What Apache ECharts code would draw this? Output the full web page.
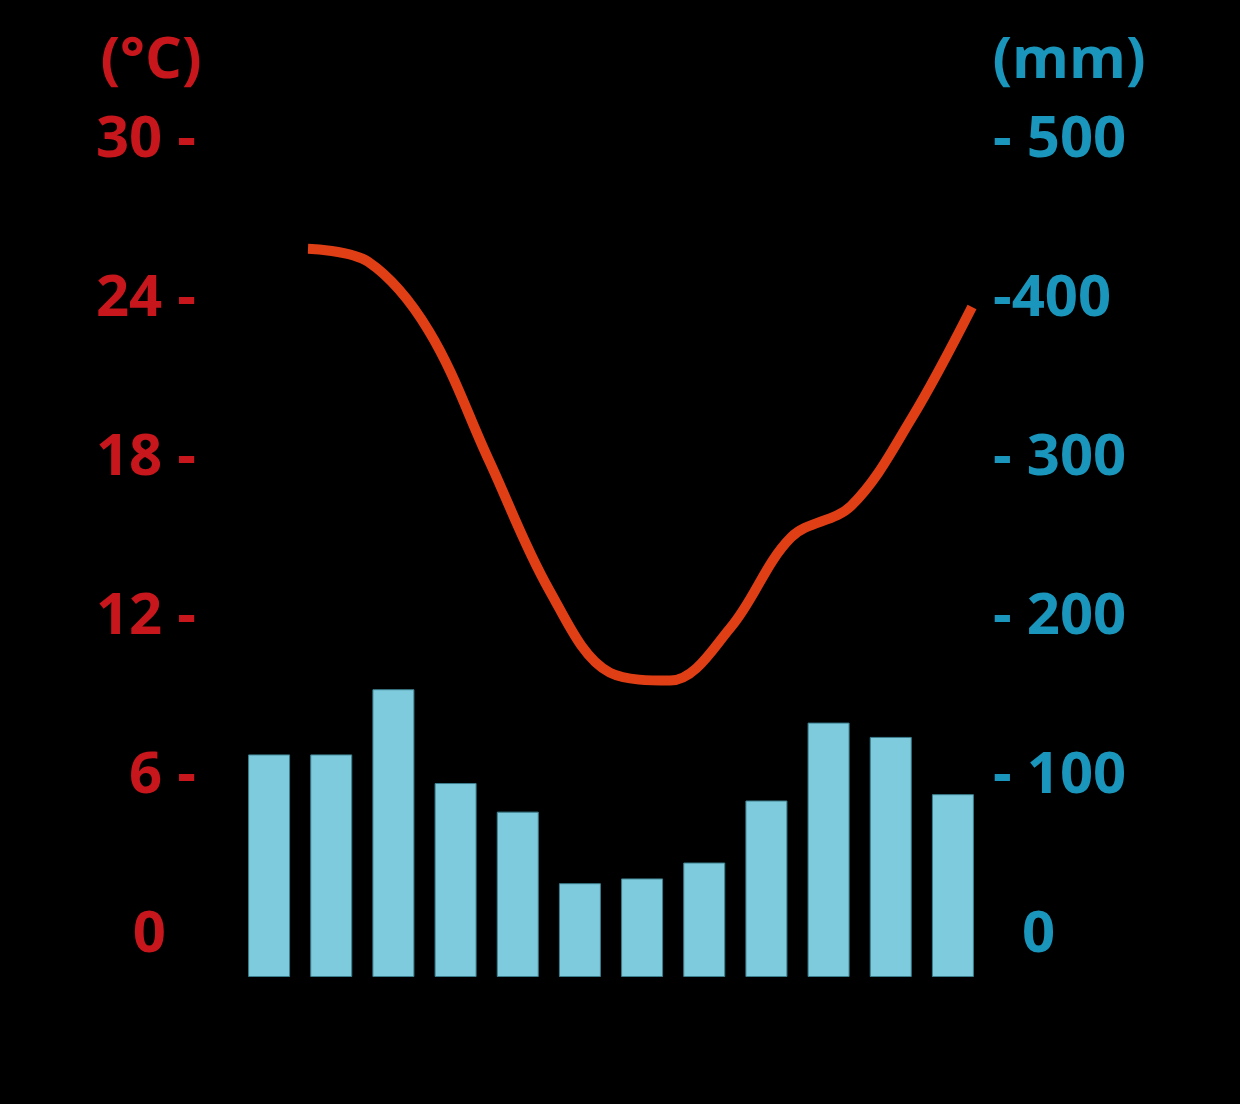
<!DOCTYPE html>
<html>
<head>
<meta charset="utf-8">
<script src="https://cdn.jsdelivr.net/npm/echarts@6/dist/echarts.min.js"></script>
<style>
  html, body { margin: 0; padding: 0; background: #000; }
  #chart { width: 1240px; height: 1104px; }
</style>
</head>
<body>
<div id="chart"></div>
<script>
// Months (not labelled in the picture)
var months = ['1', '2', '3', '4', '5', '6', '7', '8', '9', '10', '11', '12'];
// Monthly precipitation (mm)
var precipitation = [140, 140, 181, 122, 104, 59, 62, 72, 111, 160, 151, 115];
// Monthly mean temperature (°C)
var temperature = [25.9, 25.4, 22.8, 17.9, 13.0, 9.9, 9.6, 11.6, 15.0, 16.2, 19.5, 23.7];
// Tick labels
var tempTicks = { 30: '30 -', 24: '24 -', 18: '18 -', 12: '12 -', 6: '6 -', 0: '{z|0}' };
var precTicks = { 500: '- 500', 400: '-400', 300: '- 300', 200: '- 200', 100: '- 100', 0: '{z|0}' };
var tempUnit = '(°C)';
var precUnit = '(mm)';

var RED = '#c8171c';
var BLUE = '#1a96bd';
var FONT = '"Open Sans", "Noto Sans", sans-serif';
var FS = 58;

var chart = echarts.init(document.getElementById('chart'), null, { renderer: 'canvas' });

chart.setOption({
  backgroundColor: '#000',
  animation: false,
  title: [
    { text: tempUnit, left: 146, top: 27, textAlign: 'center',
      textStyle: { color: RED, fontFamily: FONT, fontWeight: 'bold', fontSize: FS } },
    { text: precUnit, left: 1064, top: 27, textAlign: 'center',
      textStyle: { color: BLUE, fontFamily: FONT, fontWeight: 'bold', fontSize: FS } }
  ],
  grid: [
    { left: 205, right: 255, top: 140, height: 795 },      // axes
    { left: 308, right: 268, top: 140, height: 795 },      // temperature line
    { left: 238, right: 256, top: 182, height: 795 }       // precipitation bars
  ],
  xAxis: [
    { type: 'category', gridIndex: 0, data: months, show: false },
    { type: 'category', gridIndex: 1, data: months, boundaryGap: false, show: false },
    { type: 'category', gridIndex: 2, data: months, boundaryGap: true, show: false }
  ],
  yAxis: [
    {
      type: 'value', gridIndex: 0, position: 'left', min: 0, max: 30, interval: 6,
      axisLine: { show: false }, axisTick: { show: false }, splitLine: { show: false },
      axisLabel: {
        margin: 9, color: RED, fontFamily: FONT, fontWeight: 'bold', fontSize: FS,
        formatter: function (v) { return tempTicks[v] !== undefined ? tempTicks[v] : ''; },
        rich: { z: { color: RED, fontFamily: FONT, fontWeight: 'bold', fontSize: FS, padding: [0, 30, 0, 0] } }
      }
    },
    {
      type: 'value', gridIndex: 0, position: 'right', min: 0, max: 500, interval: 100,
      axisLine: { show: false }, axisTick: { show: false }, splitLine: { show: false },
      axisLabel: {
        margin: 8, color: BLUE, fontFamily: FONT, fontWeight: 'bold', fontSize: FS,
        formatter: function (v) { return precTicks[v] !== undefined ? precTicks[v] : ''; },
        rich: { z: { color: BLUE, fontFamily: FONT, fontWeight: 'bold', fontSize: FS, padding: [0, 0, 0, 29] } }
      }
    },
    { type: 'value', gridIndex: 1, min: 0, max: 30, show: false },
    { type: 'value', gridIndex: 2, min: 0, max: 500, show: false }
  ],
  series: [
    {
      type: 'bar', xAxisIndex: 2, yAxisIndex: 3, data: precipitation,
      barWidth: 42,
      itemStyle: { color: '#7ecbdd', borderColor: '#3c7f8e', borderWidth: 1 }
    },
    {
      type: 'line', xAxisIndex: 1, yAxisIndex: 2, data: temperature,
      smooth: 0.35, showSymbol: false, symbol: 'none',
      lineStyle: { color: '#e03f16', width: 10, cap: 'butt', join: 'round' }
    }
  ]
});
</script>
</body>
</html>
